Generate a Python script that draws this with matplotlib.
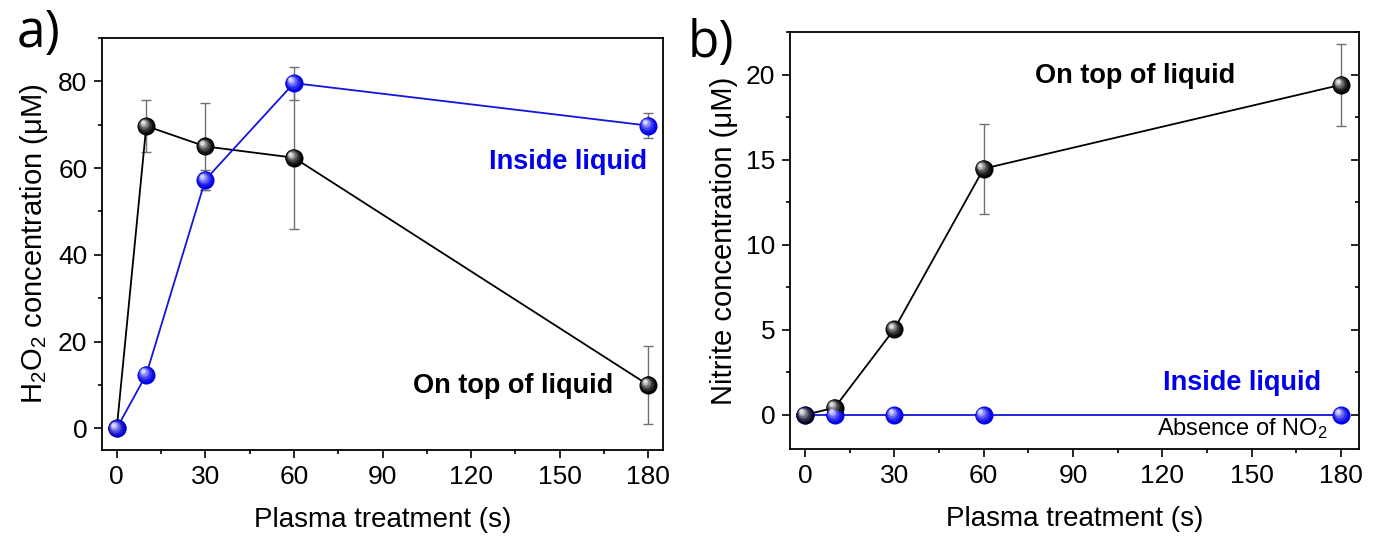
import numpy as np
import matplotlib
matplotlib.use("Agg")
import matplotlib.pyplot as plt
from matplotlib.transforms import offset_copy
from matplotlib.colors import to_rgb
from matplotlib.ticker import MultipleLocator

plt.rcParams['font.family'] = ['Liberation Sans', 'DejaVu Sans']
plt.rcParams['mathtext.fontset'] = 'custom'
plt.rcParams['mathtext.rm'] = 'Liberation Sans'
plt.rcParams['mathtext.it'] = 'Liberation Sans:italic'
plt.rcParams['mathtext.bf'] = 'Liberation Sans:bold'

# ---------------- data ----------------
time_s = [0, 10, 30, 60, 180]

# panel a: H2O2 concentration (uM)
h2o2_top = [0, 69.7, 65.0, 62.4, 10.0]
h2o2_top_err = [0, 6.1, 10.0, 16.5, 9.0]
h2o2_inside = [0, 12.4, 57.3, 79.6, 69.8]
h2o2_inside_err = [0, 0, 2.3, 3.8, 2.9]

# panel b: nitrite concentration (uM)
nitrite_top = [0, 0.43, 5.04, 14.47, 19.4]
nitrite_top_err = [0, 0, 0, 2.65, 2.4]
nitrite_inside = [0, 0, 0, 0, 0]

x_ticks = [0, 30, 60, 90, 120, 150, 180]

BLACK = '#000000'
BLUE = '#1414dc'
ERR = '#707070'

W, H = 1385, 542
fig = plt.figure(figsize=(W / 100, H / 100), dpi=100)

def px_rect(l, t, r, b):
    return [l / W, 1 - b / H, (r - l) / W, (b - t) / H]

axA = fig.add_axes(px_rect(102, 38, 663, 450))
axB = fig.add_axes(px_rect(790, 32, 1359, 449))


def balls(ax, x, y, base, hi, ms, z):
    base = np.array(to_rgb(base))
    hi = np.array(to_rgb(hi))
    n = 9
    for i in range(n):
        t = i / (n - 1)
        size = ms * (1 - 0.78 * t)
        col = base * (1 - t ** 1.6) + hi * t ** 1.6
        d = t * ms * 0.2
        tr = offset_copy(ax.transData, fig=fig, x=-d, y=d, units='points')
        ax.plot(x, y, ls='none', marker='o', ms=size, mfc=col, mec='none',
                transform=tr, zorder=z + i * 0.01, clip_on=False)


def series(ax, x, y, err, color, base, hi):
    if err is not None:
        ax.errorbar(x, y, yerr=err, fmt='none', ecolor=ERR, elinewidth=1.0,
                    capsize=3.3, capthick=1.0, zorder=2)
    ax.plot(x, y, color=color, lw=1.3, zorder=3)
    balls(ax, x, y, base, hi, 13, 4)


TICK_FS = 19
XLABEL_FS = 20
YLABEL_FS = 21
ANN_FS = 19.5

for ax in (axA, axB):
    for s in ax.spines.values():
        s.set_linewidth(1.3)
    ax.set_xlim(-5, 185)
    ax.set_xticks(x_ticks)
    ax.xaxis.set_minor_locator(MultipleLocator(15))
    ax.tick_params(which='major', direction='out', length=5.5, width=1.2,
                   labelsize=TICK_FS, pad=5)
    ax.tick_params(which='minor', direction='out', length=3, width=1.2)
    ax.set_xlabel('Plasma treatment (s)', fontsize=XLABEL_FS, labelpad=13)

# panel a
series(axA, time_s, h2o2_top, h2o2_top_err, BLACK, '#000000', '#e0e0e0')
series(axA, time_s, h2o2_inside, h2o2_inside_err, BLUE, '#0000e6', '#d8d8ff')
axA.set_ylim(-5, 90)
axA.set_yticks([0, 20, 40, 60, 80])
axA.yaxis.set_minor_locator(MultipleLocator(10))
axA.set_ylabel('H$_2$O$_2$ concentration (μM)', fontsize=YLABEL_FS, labelpad=6)
axA.text(179.5, 61.5, 'Inside liquid', color='#0000ee', fontsize=ANN_FS,
         fontweight='bold', ha='right', va='center')
axA.text(168, 9.7, 'On top of liquid', color='black', fontsize=ANN_FS,
         fontweight='bold', ha='right', va='center')

# panel b
series(axB, time_s, nitrite_inside, None, BLUE, '#0000e6', '#d8d8ff')
series(axB, time_s, nitrite_top, nitrite_top_err, BLACK, '#000000', '#e0e0e0')
axB.set_ylim(-2, 22.5)
axB.set_xlim(-5, 186)
axB.set_yticks([0, 5, 10, 15, 20])
axB.yaxis.set_minor_locator(MultipleLocator(2.5))
axB.tick_params(axis='y', which='both', right=True)
axB.set_ylabel('Nitrite concentration (μM)', fontsize=YLABEL_FS, labelpad=6)
# inward ticks on right spine
for t in axB.yaxis.get_major_ticks() + axB.yaxis.get_minor_ticks():
    t.tick2line.set_marker(0)
axB.text(110.8, 19.9, 'On top of liquid', color='black', fontsize=ANN_FS,
         fontweight='bold', ha='center', va='center')
axB.text(146.6, 1.9, 'Inside liquid', color='#0000ee', fontsize=ANN_FS,
         fontweight='bold', ha='center', va='center')
axB.text(175.5, -0.8, 'Absence of NO$_2$', color='black', fontsize=17,
         ha='right', va='center')

fig.text(17 / W, 1 - 47 / H, 'a)', fontsize=37, family='Open Sans',
         ha='left', va='baseline')
fig.text(688 / W, 1 - 57 / H, 'b)', fontsize=37, family='Open Sans',
         ha='left', va='baseline')

fig.savefig('out.png', dpi=100)
